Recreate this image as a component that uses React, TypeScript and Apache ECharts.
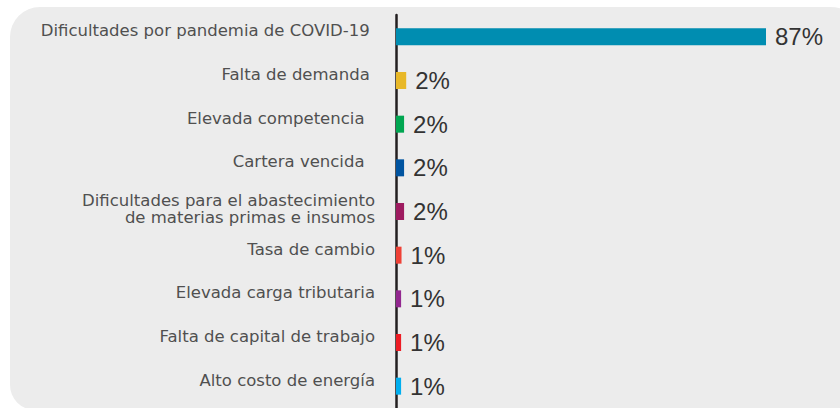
import React, { useEffect, useRef } from "react";
import * as echarts from "echarts";

const categories = [
  "Dificultades por pandemia de COVID-19 ",
  "Falta de demanda ",
  "Elevada competencia  ",
  "Cartera vencida  ",
  "Dificultades para el abastecimiento\nde materias primas e insumos",
  "Tasa de cambio",
  "Elevada carga tributaria",
  "Falta de capital de trabajo",
  "Alto costo de energía",
];
const values = [87, 2.4, 1.9, 1.9, 1.9, 1.3, 1.2, 1.2, 1.2];
const colors = [
  "#008db1",
  "#e8b828",
  "#00a651",
  "#0054a0",
  "#9e1b60",
  "#ef4136",
  "#92278f",
  "#ed1c24",
  "#00aeef",
];

export default function App() {
  const ref = useRef<HTMLDivElement>(null);
  useEffect(() => {
    if (!ref.current) return;
    const chart = echarts.init(ref.current, undefined, { renderer: "svg" });
    chart.setOption({
      animation: false,
      backgroundColor: "#ffffff",
      graphic: [
        {
          type: "rect",
          z: -10,
          silent: true,
          shape: { x: 10, y: 7, width: 860, height: 403, r: [30, 40, 0, 25] },
          style: { fill: "#ececec" },
        },
      ],
      grid: { left: 396, right: 74, top: 15, height: 396, containLabel: false },
      xAxis: {
        type: "value",
        min: 0,
        max: "dataMax",
        show: false,
      },
      yAxis: {
        type: "category",
        inverse: true,
        data: categories,
        axisLine: { show: true, lineStyle: { color: "#231f20", width: 2.5 } },
        axisTick: { show: false },
        axisLabel: {
          margin: 21,
          fontFamily: "DejaVu Sans",
          fontSize: 16.5,
          color: "#505050",
          align: "right",
          formatter: (v: string) =>
            v
              .split("\n")
              .map((s) => (v.includes("\n") ? `{m|${s}}` : `{s|${s}}`))
              .join("\n"),
          rich: {
            s: {
              fontFamily: "DejaVu Sans",
              fontSize: 16.5,
              color: "#505050",
              padding: [0, 0, 12, 0],
            },
            m: {
              fontFamily: "DejaVu Sans",
              fontSize: 16.5,
              color: "#505050",
              lineHeight: 17.5,
              padding: [0, 0, 5, 0],
            },
          },
        },
      },
      series: [
        {
          type: "bar",
          barWidth: 17,
          data: values.map((v, i) => ({ value: v, itemStyle: { color: colors[i] } })),
          label: {
            show: true,
            position: "right",
            distance: 9,
            fontFamily: "Liberation Sans",
            fontSize: 24,
            color: "#333333",
            formatter: (p: any) => Math.round(p.value) + "%",
          },
        },
      ],
    });
    return () => chart.dispose();
  }, []);
  return (
    <div
      ref={ref}
      style={{ position: "absolute", left: 0, top: 0, width: 840, height: 408 }}
    />
  );
}
